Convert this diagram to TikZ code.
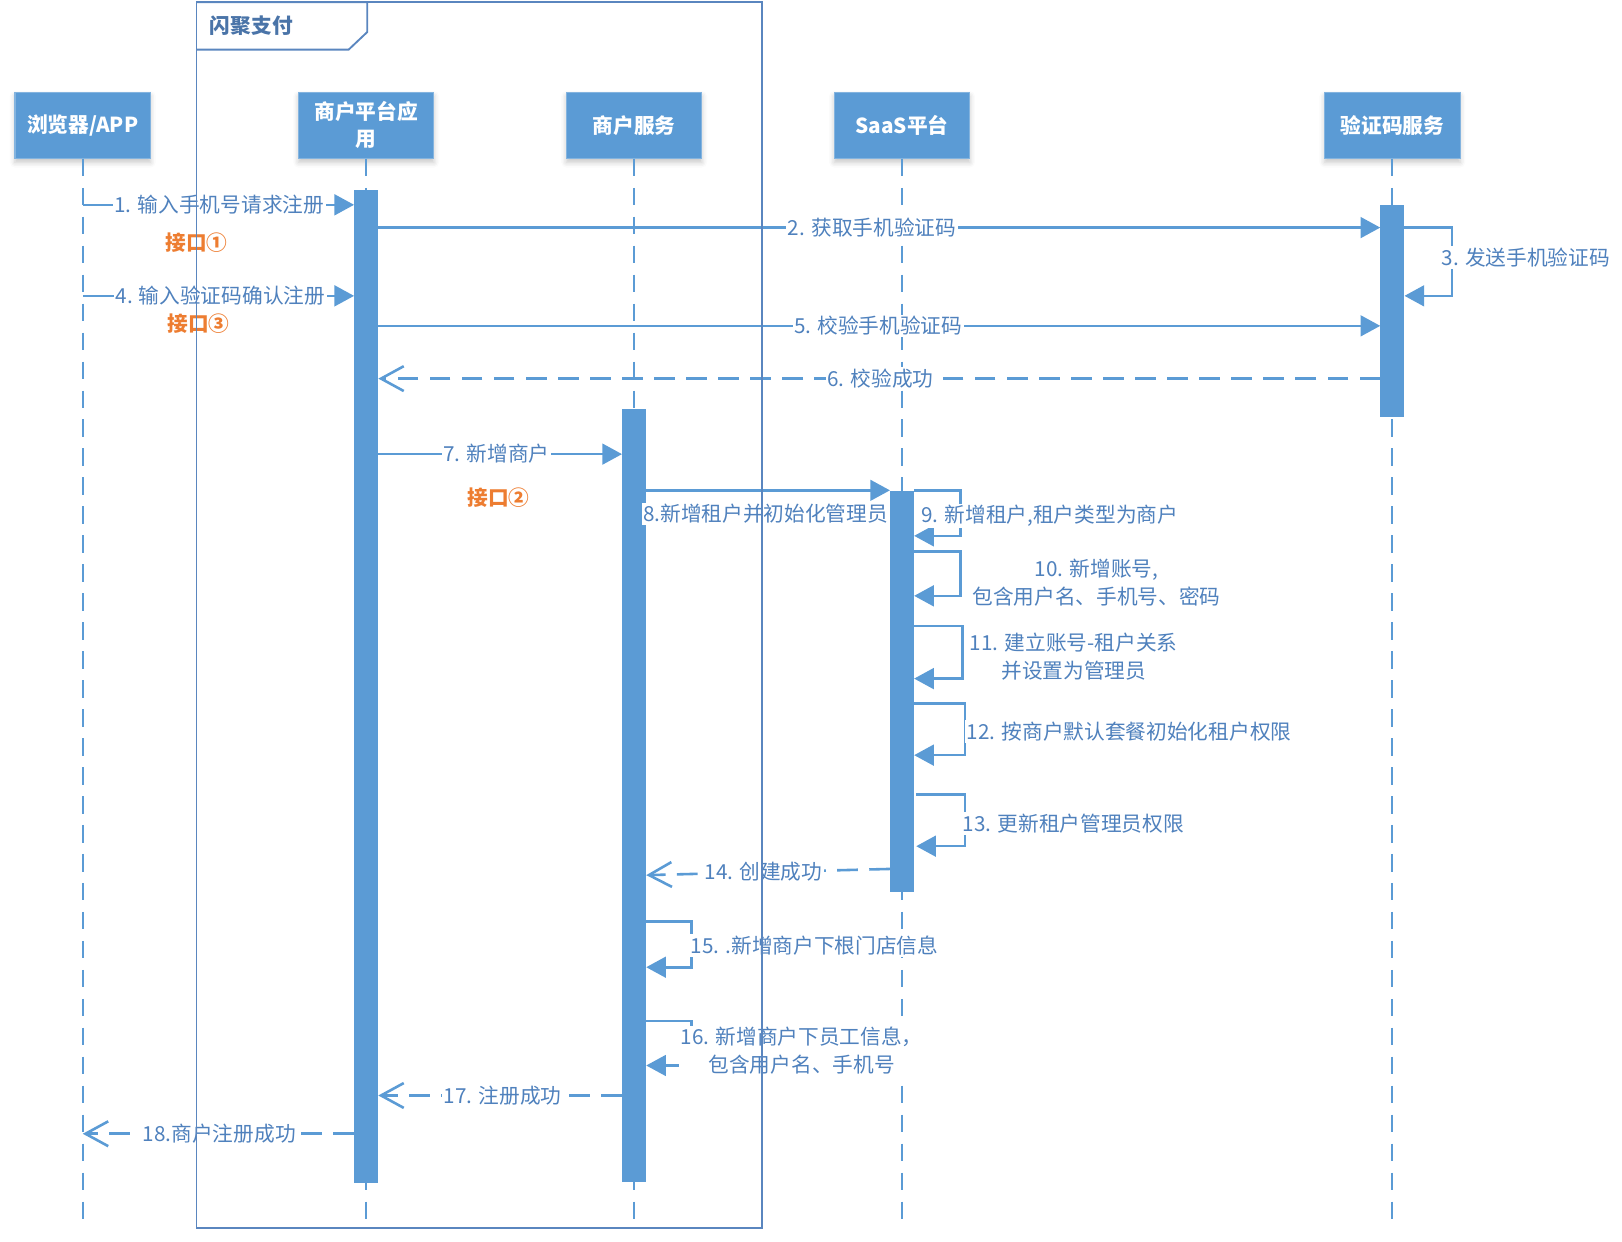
\documentclass[tikz,border=0pt]{standalone}
\usepackage{fontspec}
\setmainfont{Noto Sans CJK SC}
\usetikzlibrary{arrows.meta,shadows.blur}
\definecolor{vblue}{HTML}{5B9BD5}
\definecolor{vtext}{HTML}{4F81BD}
\definecolor{vframe}{HTML}{5A86BF}
\definecolor{vtitle}{HTML}{4A74A8}
\definecolor{vorange}{HTML}{ED7D31}
\begin{document}
\begin{tikzpicture}[x=1pt,y=-1pt,
  head/.style={fill=vblue, draw=vblue!75!white, line width=1pt, minimum width=131pt,
    minimum height=64pt, inner sep=0pt, text=white,
    font=\fontsize{20}{26}\selectfont\bfseries, align=center,
    blur shadow={shadow xshift=0pt, shadow yshift=-4pt, shadow blur radius=5pt, shadow opacity=22}},
  life/.style={draw=vblue, line width=2pt, dash pattern=on 17pt off 11pt},
  actbar/.style={fill=vblue, draw=none, minimum width=23pt, inner sep=0pt, anchor=north},
  msg/.style={draw=vblue, line width=2.5pt, -{Triangle[length=19pt,width=20pt]}},
  ret/.style={draw=vblue, line width=2.5pt, dash pattern=on 20pt off 11pt,
    -{Straight Barb[length=22pt,width=24pt]}},
  lbl/.style={fill=white, inner sep=1.5pt, text=vtext, font=\fontsize{20}{27}\selectfont},
  orng/.style={text=vorange, font=\fontsize{20}{24}\selectfont\bfseries, inner sep=0pt},
  frm/.style={draw=vframe, line width=1.8pt},
]
\useasboundingbox (0,0) rectangle (1568,1200);

% heads
\node[head] (hA) at (80,121) {浏览器/APP};
\node[head] (hB) at (354,121) {商户平台应\\用};
\node[head] (hC) at (613,121) {商户服务};
\node[head] (hD) at (872,121) {SaaS平台};
\node[head] (hE) at (1346,121) {验证码服务};

% lifeline ends
\coordinate (eA) at (80,1178);
\coordinate (eB) at (354,1186);
\coordinate (eC) at (613,1186);
\coordinate (eD) at (872,1188);
\coordinate (eE) at (1346,1188);
\draw[life] (hA.south) -- (eA);
\draw[life] (hB.south) -- (eB);
\draw[life] (hC.south) -- (eC);
\draw[life] (hD.south) -- (eD);
\draw[life] (hE.south) -- (eE);

% activation bars
\node[actbar, minimum height=960pt] (bB) at (354,183) {};
\node[actbar, minimum height=747pt] (bC) at (613,395) {};
\node[actbar, minimum height=388pt] (bD) at (872,474) {};
\node[actbar, minimum height=205pt] (bE) at (1346,198) {};

% messages
\draw[msg] (hA |- 0,198) -- (bB.west |- 0,198);
\draw[msg] (bB.east |- 0,220) -- (bE.west |- 0,220);
\draw[msg] (bE.east |- 0,220) -- ++(46,0) -- ++(0,66) -- (bE.east |- 0,286);
\draw[msg] (hA |- 0,286) -- (bB.west |- 0,286);
\draw[msg] (bB.east |- 0,315) -- (bE.west |- 0,315);
\draw[ret] (bE.west |- 0,366) -- (bB.east |- 0,366);
\draw[msg] (bB.east |- 0,439) -- (bC.west |- 0,439);
\draw[msg] (bC.east |- 0,474) -- (bD.west |- 0,474);
\draw[msg] (bD.east |- 0,474) -- ++(45,0) -- ++(0,44) -- (bD.east |- 0,518);
\draw[msg] (bD.east |- 0,533) -- ++(45,0) -- ++(0,43) -- (bD.east |- 0,576);
\draw[msg] (bD.east |- 0,605) -- ++(47,0) -- ++(0,51) -- (bD.east |- 0,656);
\draw[msg] (bD.east |- 0,680) -- ++(49,0) -- ++(0,50) -- (bD.east |- 0,730);
\draw[msg] ([xshift=2pt]bD.east |- 0,768) -- ++(47,0) -- ++(0,50) -- ([xshift=2pt]bD.east |- 0,818);
\draw[ret] (bD.west |- 0,840) -- (bC.east |- 0,846);
\draw[msg] (bC.east |- 0,891) -- ++(44,0) -- ++(0,44) -- (bC.east |- 0,935);
\draw[msg] (bC.east |- 0,987) -- ++(44,0) -- ++(0,43) -- (bC.east |- 0,1030);
\draw[ret] (bC.west |- 0,1059) -- (bB.east |- 0,1059);
\draw[ret] (bB.west |- 0,1096) -- (hA |- 0,1096);

% labels
\node[lbl] (l1) at (212,198) {1. 输入手机号请求注册};
\node[lbl] (l2) at (843,220) {2. 获取手机验证码};
\node[lbl, anchor=west] (l3) at (1392,249) {3. 发送手机验证码};
\node[lbl] (l4) at (213,286) {4. 输入验证码确认注册};
\node[lbl] (l5) at (849,315) {5. 校验手机验证码};
\node[lbl] (l6) at (851,366) {6. 校验成功};
\node[lbl] (l7) at (480,439) {7. 新增商户};
\node[lbl] (l8) at (740,497) {8.新增租户并初始化管理员};
\node[lbl, anchor=west] (l9) at (889,499) {9. 新增租户,租户类型为商户};
\node[lbl, align=center] (l10) at (1060,563) {10. 新增账号,\\包含用户名、手机号、密码};
\node[lbl, align=center] (l11) at (1038,635) {11. 建立账号-租户关系\\并设置为管理员};
\node[lbl, anchor=west] (l12) at (933,707) {12. 按商户默认套餐初始化租户权限};
\node[lbl, anchor=west] (l13) at (929,796) {13. 更新租户管理员权限};
\node[lbl] (l14) at (738,843) {14. 创建成功};
\node[lbl, anchor=west] (l15) at (666,914) {15. .新增商户下根门店信息};
\node[lbl, align=center] (l16) at (775,1016) {16. 新增商户下员工信息，\\包含用户名、手机号};
\node[lbl] (l17) at (486,1059) {17. 注册成功};
\node[lbl] (l18) at (212,1096) {18.商户注册成功};

\node[orng] (i1) at (190,235) {接口①};
\node[orng] (i3) at (192,313) {接口③};
\node[orng] (i2) at (482,481) {接口②};

% frame
\draw[frm] (190,2) rectangle (737,1187);
\draw[frm] (190,2) -- (355,2) -- (355,31) -- (337,48) -- (190,48);
\node[text=vtitle, font=\fontsize{20}{24}\selectfont\bfseries, inner sep=0pt] (ft) at (243,25) {闪聚支付};
\end{tikzpicture}
\end{document}
